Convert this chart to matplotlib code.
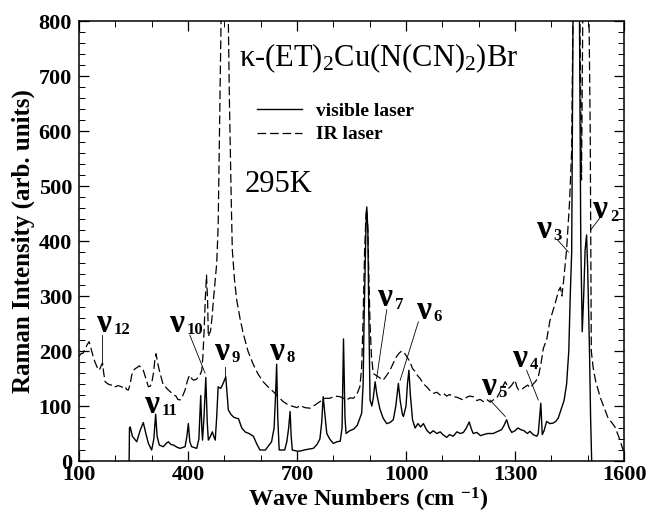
import numpy as np
import matplotlib as mpl
mpl.use('Agg')
import matplotlib.pyplot as plt

#*******************************************************************************
# visible laser spectrum (solid)
vis_wn = [238, 239, 241, 247, 259, 268, 277, 284, 291, 300, 306, 311, 315, 321,
          332, 340, 346, 353, 360, 370, 378, 392, 397, 401, 405, 410, 424, 430,
          435, 438, 440, 444, 449, 453, 456, 462, 467, 471, 475, 479, 483, 490,
          496, 504, 508, 511, 518, 525, 532, 539, 548, 557, 568, 580, 590, 598,
          613, 622, 630, 637, 641, 644, 647, 651, 666, 672, 677, 681, 684, 687,
          700, 708, 720, 735, 745, 755, 763, 768, 772, 776, 782, 790, 800, 810,
          819, 824, 828, 832, 835, 845, 856, 866, 878, 882, 885, 890, 892, 895,
          897, 901, 906, 910, 915, 920, 928, 937, 947, 956, 965, 972, 979, 984,
          990, 993, 1000, 1004, 1008, 1012, 1018, 1025, 1033, 1040, 1048, 1057,
          1066, 1075, 1085, 1094, 1103, 1112, 1120, 1130, 1140, 1150, 1158, 1166,
          1174, 1180, 1185, 1195, 1205, 1213, 1225, 1240, 1250, 1263, 1270, 1277,
          1284, 1291, 1300, 1308, 1316, 1325, 1334, 1341, 1350, 1360, 1364, 1371,
          1375, 1380, 1387, 1396, 1405, 1412, 1419, 1428, 1435, 1442, 1448, 1452,
          1456, 1460, 1477, 1481, 1485, 1489, 1493, 1497, 1500, 1505, 1508, 1511]
vis_int = [0, 60, 62, 45, 35, 55, 70, 50, 32, 20, 40, 85, 45, 29,
           26, 32, 35, 30, 29, 25, 23, 26, 45, 68, 35, 26, 23, 40,
           119, 60, 38, 80, 152, 70, 38, 45, 53, 45, 38, 80, 135, 132,
           140, 153, 120, 93, 85, 80, 78, 77, 60, 53, 50, 45, 30, 20,
           20, 28, 35, 60, 120, 176, 80, 20, 20, 35, 60, 90, 45, 20,
           18, 18, 20, 22, 23, 30, 40, 70, 117, 90, 50, 40, 32, 35,
           36, 60, 222, 80, 50, 55, 58, 65, 87, 140, 269, 430, 462, 420,
           300, 111, 100, 115, 144, 120, 95, 78, 68, 70, 75, 100, 141, 110,
           85, 81, 100, 140, 165, 120, 75, 60, 68, 62, 68, 56,
           50, 55, 50, 53, 47, 43, 48, 45, 53, 50, 52, 60,
           71, 58, 50, 52, 46, 48, 50, 50, 53, 57, 65, 75,
           60, 52, 55, 60, 57, 55, 50, 54, 48, 45, 50, 105,
           48, 55, 72, 68, 69, 72, 78, 96, 110, 140, 200, 300,
           380, 850, 850, 400, 235, 300, 384, 411, 350, 200, 80, 0]

# IR laser spectrum (dashed)
ir_wn = [100, 105, 111, 118, 123, 128, 133, 139, 144, 149, 154, 158, 162, 165,
         168, 172, 180, 188, 194, 200, 207, 213, 220, 227, 231, 236, 241, 245,
         250, 255, 260, 266, 271, 277, 284, 291, 296, 300, 305, 309, 312, 316,
         321, 327, 332, 339, 346, 353, 360, 367, 372, 378, 385, 392, 398, 404,
         410, 415, 422, 429, 434, 438, 441, 444, 448, 451, 454, 456, 459, 462,
         466, 470, 475, 479, 483, 488, 491, 494, 510, 514, 519, 522, 528, 534,
         543, 552, 565, 580, 593, 607, 620, 635, 648, 662, 676, 690, 700, 708,
         722, 736, 750, 763, 777, 790, 805, 818, 828, 837, 846, 855, 864, 873,
         878, 882, 886, 890, 892, 895, 898, 901, 905, 910, 917, 924, 930, 937,
         946, 956, 965, 974, 981, 988, 995, 1002, 1011, 1018, 1025, 1032, 1039,
         1048, 1057, 1066, 1075, 1085, 1094, 1103, 1112, 1120, 1130, 1140, 1150,
         1158, 1167, 1175, 1185, 1195, 1204, 1213, 1222, 1232, 1240, 1250, 1259,
         1266, 1273, 1278, 1282, 1290, 1296, 1300, 1305, 1310, 1318, 1328, 1335,
         1342, 1350, 1357, 1364, 1371, 1378, 1387, 1396, 1405, 1412, 1420, 1425,
         1429, 1433, 1442, 1450, 1456, 1460, 1478, 1483, 1487, 1503, 1507, 1510,
         1515, 1522, 1535, 1555, 1575, 1585, 1595, 1600]
ir_int = [190, 195, 196, 205, 212, 217, 205, 190, 180, 172, 165, 168, 175, 178,
          160, 144, 140, 138, 139, 135, 137, 136, 134, 136, 130, 129, 140, 156,
          165, 168, 170, 173, 170, 165, 150, 135, 136, 141, 160, 185, 195, 180,
          165, 150, 138, 134, 129, 125, 120, 118, 112, 111, 118, 129, 145, 156,
          150, 147, 148, 153, 158, 165, 190, 232, 300, 338, 290, 226, 232, 236,
          260, 293, 330, 359, 426, 656, 800, 850, 850, 656, 475, 384, 330, 293,
          260, 232, 200, 175, 158, 144, 135, 126, 117, 108, 102, 99, 97, 101,
          97, 96, 102, 108, 114, 114, 118, 117, 114, 111, 115, 114, 120, 135,
          170, 260, 380, 450, 458, 420, 330, 250, 190, 159, 156, 153, 150, 147,
          155, 165, 178, 190, 196, 200, 197, 190, 180, 168, 163, 155, 150,
          140, 135, 128, 123, 125, 120, 123, 118, 121, 117, 116, 113,
          111, 116, 118, 117, 110, 112, 108, 112, 107, 111, 115, 126,
          135, 144, 138, 132, 137, 143, 147, 135, 129, 130, 135, 138,
          133, 140, 145, 153, 175, 205, 220, 255, 275, 290, 310, 316,
          300, 323, 384, 470, 565, 850, 850, 511, 850, 850, 600, 200,
          170, 145, 115, 80, 62, 45, 25, 15]

# mode labels: name, label anchor (wn, I), leader line start and end
mode_names = ['12', '11', '10', '9', '8', '7', '6', '5', '4', '3', '2']
mode_label_wn = [149, 282, 350, 474, 626, 924, 1029, 1208, 1295, 1360, 1516]
mode_label_int = [235, 88, 235, 184, 184, 281, 259, 120, 171, 405, 441]
leader_from = [(162, 229), None, (405, 229), (502, 171), None, (947, 275),
               (1034, 253), (1231, 111), (1332, 165), (1417, 402), (1543, 450)]
leader_to = [(162, 175), None, (447, 160), (502, 151), None, (919, 150),
             (984, 147), (1273, 81), (1364, 111), (1447, 380), (1508, 420)]

#*******************************************************************************
def setup_fonts():
    plt.rcParams['font.family'] = ['Liberation Serif', 'DejaVu Serif']
    plt.rcParams['mathtext.fontset'] = 'custom'
    plt.rcParams['mathtext.rm'] = 'Liberation Serif'
    plt.rcParams['mathtext.it'] = 'Liberation Serif:italic'
    plt.rcParams['mathtext.bf'] = 'Liberation Serif:bold'

#*******************************************************************************
def mode_label(ax, name, x, y):
    ax.text(x, y, u'\u03bd', fontsize=24, fontweight='bold', ha='left',
            va='baseline')
    ax.annotate(name, xy=(x, y), xytext=(12, -1.5), textcoords='offset points',
                fontsize=12, fontweight='bold', ha='left', va='baseline')

#*******************************************************************************
def do_action():
    fig = plt.figure(figsize=(6.49, 5.14), dpi=100)
    ax = fig.add_axes([0.1217, 0.1031, 0.8398, 0.856])

    ax.plot(vis_wn, vis_int, 'k-', lw=1.0, label='visible laser')
    ax.plot(ir_wn, ir_int, 'k', lw=0.9, dashes=(7, 3), label='IR laser')

    ax.set_xlim(100, 1600)
    ax.set_ylim(0, 800)
    ax.set_xticks(np.arange(100, 1601, 300))
    ax.set_xticks(np.arange(100, 1601, 100), minor=True)
    ax.set_yticks(np.arange(0, 801, 100))
    ax.set_yticks(np.arange(0, 801, 20), minor=True)
    ax.tick_params(which='both', direction='in', top=True, right=True)
    ax.tick_params(which='major', length=7, width=0.9)
    ax.tick_params(which='minor', length=4, width=0.7)
    ax.tick_params(axis='x', which='major', labelsize=16, pad=3)
    ax.tick_params(axis='y', which='major', labelsize=16, pad=5)
    for lab in ax.get_xticklabels() + ax.get_yticklabels():
        lab.set_fontweight('bold')
    for sp in ax.spines.values():
        sp.set_linewidth(1.1)

    ax.set_xlabel(r'Wave Numbers (cm $^{\mathbf{-1}}$)', fontsize=17.5,
                  fontweight='bold')
    ax.set_ylabel('Raman Intensity (arb. units)', fontsize=18, fontweight='bold')
    ax.xaxis.set_label_coords(0.53, -0.056)
    ax.yaxis.set_label_coords(-0.08, 0.5)

    ax.text(540, 718, u'\u03ba-(ET)$_2$Cu(N(CN)$_2$)Br', fontsize=22,
            ha='left', va='baseline')
    ax.text(557, 489, '295K', fontsize=22, ha='left', va='baseline')

    ax.legend(loc='upper left', bbox_to_anchor=(0.3266, 0.815), frameon=False,
              prop={'size': 14, 'weight': 'bold'}, handlelength=2.3,
              handletextpad=0.75, labelspacing=0.3, borderpad=0,
              borderaxespad=0)

    for i in range(len(mode_names)):
        mode_label(ax, mode_names[i], mode_label_wn[i], mode_label_int[i])
        if leader_from[i] is not None:
            (x0, y0) = leader_from[i]
            (x1, y1) = leader_to[i]
            ax.plot([x0, x1], [y0, y1], 'k-', lw=0.6)

    fig.savefig('out.png', dpi=100)

#*******************************************************************************
if __name__ == "__main__":
    setup_fonts()
    do_action()
